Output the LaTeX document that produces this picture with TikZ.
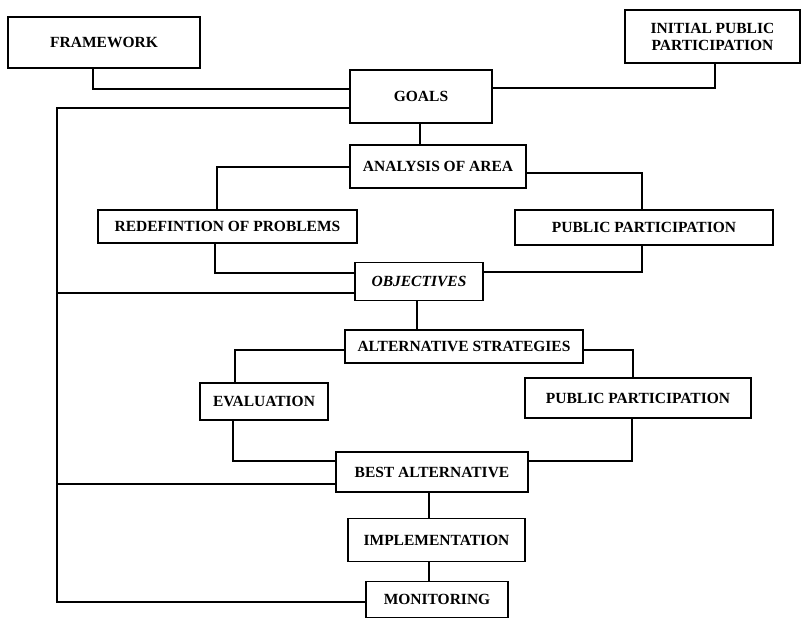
\documentclass[tikz,border=0pt]{standalone}
\usepackage{fontspec}
\setmainfont{Liberation Serif}
\usetikzlibrary{positioning}

\begin{document}
\begin{tikzpicture}[x=1pt,y=-1pt,
  stage/.style={draw=black,line width=1.8pt,font=\fontsize{15.5}{17}\selectfont\bfseries,text=black,inner sep=0pt,align=center,anchor=center},
  link/.style={black,line width=1.6pt}]
\useasboundingbox (0,0) rectangle (802,622);

% boxes, top to bottom
\node[stage,minimum width=192,minimum height=51] (framework) at (104,42.5) {FRAMEWORK};
\node[stage,minimum width=175,minimum height=53] (initial) at (712.5,36.5) {INITIAL PUBLIC\\PARTICIPATION};
\node[stage,minimum width=142,minimum height=53] (goals) at (421,96.5) {GOALS};
\node[stage,minimum width=176,minimum height=43] (analysis) at (438,166.5) {ANALYSIS OF AREA};
\node[stage,minimum width=259,minimum height=33] (redef) at (227.5,226.5) {REDEFINTION OF PROBLEMS};
\node[stage,minimum width=258,minimum height=35] (pp1) at (644,227.5) {PUBLIC PARTICIPATION};
\node[stage,minimum width=128,minimum height=38,font=\fontsize{15.5}{17}\selectfont\bfseries\itshape] (objectives) at (419,281.5) {OBJECTIVES};
\node[stage,minimum width=238,minimum height=33] (alt) at (464,346.5) {ALTERNATIVE STRATEGIES};
\node[stage,minimum width=128,minimum height=37] (eval) at (264,401.5) {EVALUATION};
\node[stage,minimum width=226,minimum height=40] (pp2) at (638,398) {PUBLIC PARTICIPATION};
\node[stage,minimum width=192,minimum height=40] (best) at (432,472) {BEST ALTERNATIVE};
\node[stage,minimum width=177,minimum height=43] (impl) at (436.5,540) {IMPLEMENTATION};
\node[stage,minimum width=142,minimum height=36] (monitoring) at (437,599.5) {MONITORING};
\coordinate (spine) at (57,300);

% links into goals
\draw[link] ([xshift=-11]framework.south) |- ([yshift=7.5]goals.west);
\draw[link] ([xshift=2.5]initial.south) |- ([yshift=8.5]goals.east);
\draw[link] ([xshift=-1]goals.south) -- ([xshift=-1]goals.south |- analysis.north);

% first loop
\draw[link] ([yshift=-0.5]analysis.west) -| ([xshift=-10.5]redef.north);
\draw[link] ([yshift=-6.5]analysis.east) -| ([xshift=-2]pp1.north);
\draw[link] ([xshift=-12.5]redef.south) |- ([yshift=8.5]objectives.west);
\draw[link] ([xshift=-2]pp1.south) |- ([yshift=9.5]objectives.east);
\draw[link] ([xshift=-2]objectives.south) -- ([xshift=-2]objectives.south |- alt.north);

% second loop
\draw[link] ([yshift=-3.5]alt.west) -| ([xshift=-29]eval.north);
\draw[link] ([yshift=-3.5]alt.east) -| ([xshift=-5]pp2.north);
\draw[link] ([xshift=-31]eval.south) |- ([yshift=11]best.west);
\draw[link] ([xshift=-6]pp2.south) |- ([yshift=11]best.east);
\draw[link] ([xshift=-3]best.south) -- ([xshift=-3]best.south |- impl.north);
\draw[link] ([xshift=-7.5]impl.south) -- ([xshift=-7.5]impl.south |- monitoring.north);

% feedback spine
\draw[link] ([yshift=-11.5]goals.west) -| (spine) |- ([yshift=-2.5]monitoring.west);
\draw[link] ([yshift=-11.5]objectives.west) -- ([yshift=-11.5]objectives.west -| spine);
\draw[link] ([yshift=-12]best.west) -- ([yshift=-12]best.west -| spine);

\end{tikzpicture}
\end{document}
